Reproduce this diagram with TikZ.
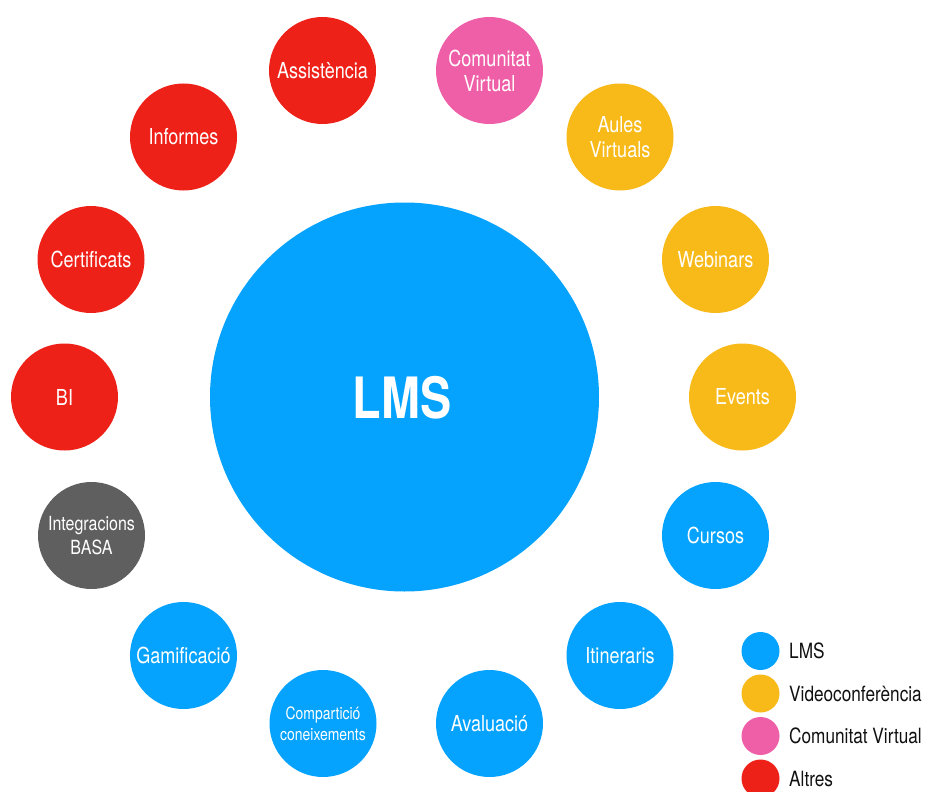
\documentclass[tikz,border=0pt]{standalone}
\usepackage{fontspec}
\setmainfont[FakeStretch=0.82]{TeX Gyre Heros}
\definecolor{lmsblue}{HTML}{05A3FD}
\definecolor{vcyellow}{HTML}{F8BA19}
\definecolor{cvpink}{HTML}{EF5FA7}
\definecolor{altred}{HTML}{EE2119}
\definecolor{intgray}{HTML}{5F5F5F}
\definecolor{legtext}{HTML}{111111}
\tikzset{
  bubble/.style={circle, inner sep=0pt, minimum size=107pt, text=white, align=center,
    font=\fontsize{22}{25}\selectfont},
  lmsb/.style={bubble, fill=lmsblue},
  vcb/.style={bubble, fill=vcyellow},
  cvb/.style={bubble, fill=cvpink},
  altb/.style={bubble, fill=altred},
  grayb/.style={bubble, fill=intgray},
  legdot/.style={circle, inner sep=0pt, minimum size=38pt},
  legtxt/.style={anchor=base west, inner sep=0pt, text=legtext, font=\fontsize{21}{24}\selectfont},
}
\begin{document}
\begin{tikzpicture}[x=1pt,y=-1pt]
\useasboundingbox (0,0) rectangle (927,792);
\fill[white] (0,0) rectangle (927,792);
% central circle
\node[circle, inner sep=0pt, minimum size=389pt, fill=lmsblue] (lms) at (404.5,397) {};
\node[text=white, inner sep=0pt, anchor=base, font=\fontsize{57}{60}\selectfont\bfseries] (lmslabel) at (402,418) {LMS};
% ring
\node[altb] (assist) at (322.5,70.5) {Assistència};
\node[cvb] (comunitat) at (489.5,70.5) {Comunitat\\Virtual};
\node[vcb] (aules) at (620,137) {Aules\\Virtuals};
\node[vcb] (webinars) at (715.5,259.5) {Webinars};
\node[vcb] (events) at (742.5,397) {Events};
\node[lmsb] (cursos) at (715.5,535.5) {Cursos};
\node[lmsb] (itineraris) at (620,655.5) {Itineraris};
\node[lmsb] (avaluacio) at (489.5,723.5) {Avaluació};
\node[lmsb, font=\fontsize{17}{21}\selectfont] (compart) at (323,723.5) {Compartició\\coneixements};
\node[lmsb] (gamif) at (183.5,655.5) {Gamificació};
\node[grayb, font=\fontsize{19.5}{23.5}\selectfont] (integ) at (91.5,535.5) {Integracions\\BASA};
\node[altb] (bi) at (64.5,397) {BI};
\node[altb] (certif) at (91,259.5) {Certificats};
\node[altb] (informes) at (183.5,137) {Informes};
% legend
\node[legdot, fill=lmsblue] (l1) at (760.5,651) {};
\node[legdot, fill=vcyellow] (l2) at (760.5,693.5) {};
\node[legdot, fill=cvpink] (l3) at (760.5,736) {};
\node[legdot, fill=altred] (l4) at (760.5,778.5) {};
\node[legtxt] (t1) at (789,658.5) {LMS};
\node[legtxt] (t2) at (789,701) {Videoconferència};
\node[legtxt] (t3) at (789,743.5) {Comunitat Virtual};
\node[legtxt] (t4) at (789,786) {Altres};
\end{tikzpicture}
\end{document}
